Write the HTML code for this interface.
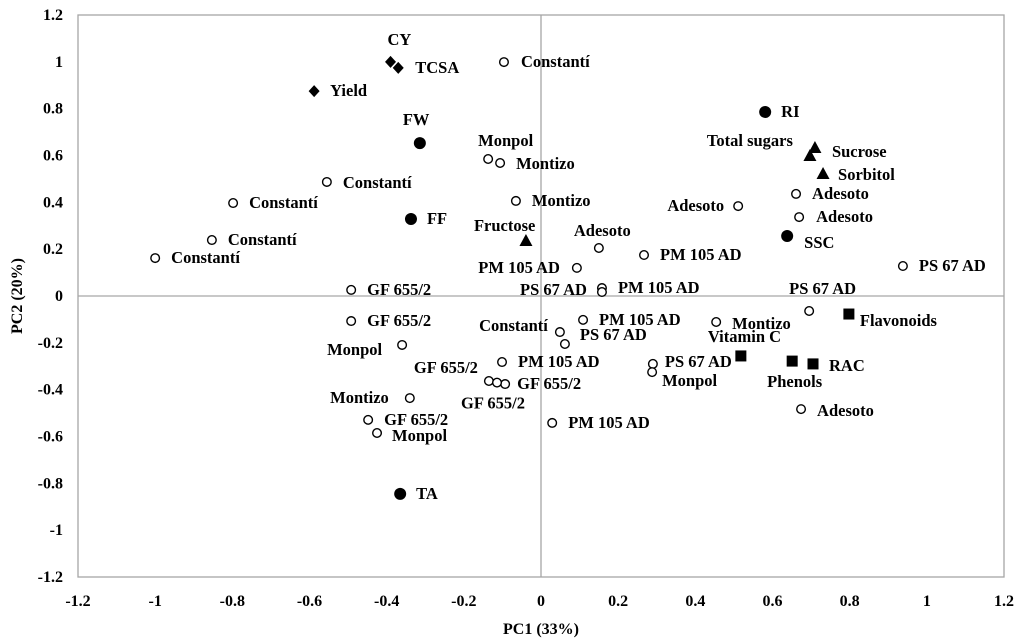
<!DOCTYPE html>
<html><head><meta charset="utf-8"><style>
html,body{margin:0;padding:0;background:#fff;}
svg{display:block;font-family:"Liberation Serif",serif;font-weight:bold;}
</style></head><body>
<svg id="chart" width="1024" height="644" viewBox="0 0 1024 644"></svg>
<script>
const xTicks=[-1.2,-1,-0.8,-0.6,-0.4,-0.2,0,0.2,0.4,0.6,0.8,1,1.2];
const yTicks=[-1.2,-1,-0.8,-0.6,-0.4,-0.2,0,0.2,0.4,0.6,0.8,1,1.2];
const varNames=["CY","TCSA","Yield","RI","FW","FF","SSC","TA","Sucrose","Total sugars","Sorbitol","Fructose","Flavonoids","Vitamin C","Phenols","RAC"];
const varShapes=["diamond","diamond","diamond","circle","circle","circle","circle","circle","triangle","triangle","triangle","triangle","square","square","square","square"];
const varX=[-0.39,-0.37,-0.588,0.581,-0.314,-0.337,0.638,-0.365,0.71,0.697,0.731,-0.039,0.798,0.518,0.651,0.705];
const varY=[1.0,0.974,0.875,0.786,0.653,0.329,0.256,-0.845,0.632,0.598,0.521,0.235,-0.077,-0.256,-0.278,-0.29];
const varLabelOff=[[-3,-17,"start"],[17,5,"start"],[16,5,"start"],[16,5,"start"],[-17,-18,"start"],[16,5,"start"],[17,12,"start"],[16,5,"start"],[17,9,"start"],[-17,-10,"end"],[15,6,"start"],[-52,-10,"start"],[11,12,"start"],[-33,-14,"start"],[-25,26,"start"],[16,7,"start"]];
const obsNames=["Constantí","Constantí","Constantí","Constantí","Constantí","Monpol","Montizo","Montizo","Adesoto","Adesoto","Adesoto","Adesoto","PM 105 AD","PM 105 AD","PS 67 AD","PS 67 AD","PM 105 AD","GF 655/2","GF 655/2","PS 67 AD","Montizo","PM 105 AD","Constantí","PS 67 AD","Monpol","PM 105 AD","PS 67 AD","Monpol","GF 655/2","GF 655/2","GF 655/2","Montizo","GF 655/2","Monpol","PM 105 AD","Adesoto"];
const obsX=[-0.096,-0.555,-0.798,-0.853,-1.0,-0.137,-0.106,-0.065,0.661,0.669,0.511,0.15,0.267,0.093,0.938,0.158,0.158,-0.492,-0.492,0.695,0.454,0.109,0.049,0.062,-0.36,-0.101,0.29,0.288,-0.135,-0.093,-0.114,-0.34,-0.448,-0.425,0.029,0.674];
const obsY=[0.999,0.487,0.397,0.239,0.162,0.585,0.568,0.406,0.436,0.337,0.384,0.205,0.175,0.12,0.128,0.034,0.017,0.026,-0.107,-0.064,-0.111,-0.102,-0.154,-0.205,-0.209,-0.282,-0.29,-0.325,-0.363,-0.376,-0.37,-0.436,-0.529,-0.585,-0.542,-0.483];
const obsLabelOff=[[17,5,"start"],[16,6,"start"],[16,5,"start"],[16,5,"start"],[16,5,"start"],[-10,-13,"start"],[16,6,"start"],[16,5,"start"],[16,5,"start"],[17,5,"start"],[-14,5,"end"],[-25,-12,"start"],[16,5,"start"],[-17,5,"end"],[16,5,"start"],[-15,7,"end"],[16,1,"start"],[16,5,"start"],[16,5,"start"],[-20,-17,"start"],[16,7,"start"],[16,5,"start"],[-12,-1,"end"],[15,-4,"start"],[-20,10,"end"],[16,5,"start"],[12,3,"start"],[10,14,"start"],[-11,-8,"end"],[12,5,"start"],[-36,26,"start"],[-21,5,"end"],[16,5,"start"],[15,8,"start"],[16,5,"start"],[16,7,"start"]];

const L=78,R=1004,T=15,B=577;
const sx=v=>L+(v+1.2)/2.4*(R-L);
const sy=v=>B-(v+1.2)/2.4*(B-T);
const svg=document.getElementById('chart');
const NS="http://www.w3.org/2000/svg";
function mk(tag,attrs,parent){const e=document.createElementNS(NS,tag);for(const k in attrs)e.setAttribute(k,attrs[k]);(parent||svg).appendChild(e);return e;}

const frame=mk('rect',{x:L,y:T,width:R-L,height:B-T,fill:'none',stroke:'#a6a6a6','stroke-width':1.3});


const vz=mk('line',{x1:sx(0),x2:sx(0),y1:T,y2:B,stroke:'#a6a6a6','stroke-width':1.3});


const hz=mk('line',{x1:L,x2:R,y1:sy(0),y2:sy(0),stroke:'#a6a6a6','stroke-width':1.3});



xTicks.forEach(t=>{const e=mk('text',{x:sx(t),y:606,'text-anchor':'middle','font-size':16});e.textContent=String(t);

});
yTicks.forEach(t=>{const e=mk('text',{x:63,y:sy(t)+5,'text-anchor':'end','font-size':16});e.textContent=String(t);

});
const xt=mk('text',{x:541,y:634,'text-anchor':'middle','font-size':16});xt.textContent="PC1 (33%)";


const yt=mk('text',{x:0,y:0,'text-anchor':'middle','font-size':16,transform:'translate(22,296) rotate(-90)'});yt.textContent="PC2 (20%)";



function label(txt,x,y,o){const e=mk('text',{x:x+o[0],y:y+o[1],'text-anchor':o[2],'font-size':16.5});e.textContent=txt;return e;}

obsNames.forEach((n,i)=>{const x=sx(obsX[i]),y=sy(obsY[i]);
const c=mk('circle',{cx:x,cy:y,r:4.3,fill:'#fff',stroke:'#000','stroke-width':1.4});


const t=label(n,x,y,obsLabelOff[i]);

});

varNames.forEach((n,i)=>{const x=sx(varX[i]),y=sy(varY[i]);let m;
const s=varShapes[i];
if(s==='circle')m=mk('circle',{cx:x,cy:y,r:6,fill:'#000'});
else if(s==='square')m=mk('rect',{x:x-5.5,y:y-5.5,width:11,height:11,fill:'#000'});
else if(s==='triangle')m=mk('polygon',{points:`${x},${y-7} ${x-6.5},${y+5} ${x+6.5},${y+5}`,fill:'#000'});
else m=mk('polygon',{points:`${x},${y-6} ${x+5.5},${y} ${x},${y+6} ${x-5.5},${y}`,fill:'#000'});


const t=label(n,x,y,varLabelOff[i]);

});
</script>
</body></html>
